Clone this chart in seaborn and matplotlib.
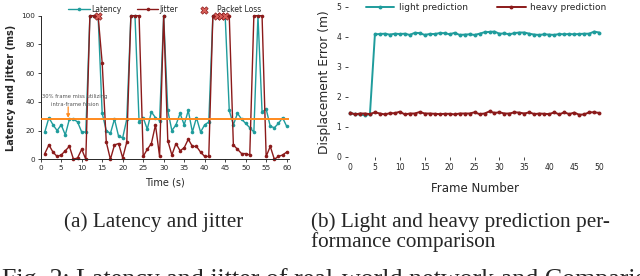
import matplotlib
matplotlib.use("Agg")
import numpy as np
import pandas as pd
import seaborn as sns
from matplotlib import pyplot as plt

# (a) latency / jitter per second
seconds = list(range(1, 61))
latency = [19, 29, 24, 20, 24, 17, 28, 28, 26, 19,
           19, 100, 100, 100, 32, 20, 18, 28, 16, 15,
           28, 100, 100, 26, 29, 21, 33, 29, 27, 100,
           34, 20, 24, 32, 24, 34, 19, 29, 19, 24,
           26, 100, 100, 100, 100, 34, 24, 32, 28, 25,
           22, 19, 100, 33, 35, 23, 22, 25, 29, 23]
jitter = [4, 10, 5, 2, 3, 6, 9, 0, 1, 7,
          0, 100, 100, 100, 67, 12, 0, 10, 11, 1,
          12, 100, 100, 100, 2, 7, 11, 24, 2, 100,
          13, 3, 11, 6, 8, 14, 9, 9, 5, 2,
          2, 100, 100, 100, 100, 100, 10, 7, 4, 4,
          3, 100, 100, 100, 2, 9, 0, 2, 3, 5]
loss_t = [14, 43, 44, 45]
loss_v = [100, 100, 100, 100]
threshold = 28

# (b) displacement error per frame
frames = list(range(0, 51))
light = [1.45, 1.42, 1.41, 1.38, 1.42, 4.08, 4.09, 4.10, 4.07, 4.10,
         4.09, 4.10, 4.06, 4.13, 4.12, 4.06, 4.09, 4.09, 4.12, 4.12,
         4.08, 4.13, 4.06, 4.07, 4.08, 4.06, 4.10, 4.15, 4.16, 4.17,
         4.10, 4.11, 4.08, 4.12, 4.14, 4.14, 4.10, 4.07, 4.06, 4.08,
         4.07, 4.06, 4.09, 4.08, 4.09, 4.08, 4.09, 4.10, 4.10, 4.17, 4.14]
heavy = [1.47, 1.41, 1.44, 1.44, 1.42, 1.48, 1.44, 1.41, 1.45, 1.45,
         1.50, 1.41, 1.44, 1.44, 1.49, 1.44, 1.44, 1.43, 1.42, 1.43,
         1.43, 1.41, 1.44, 1.44, 1.44, 1.48, 1.42, 1.44, 1.51, 1.46,
         1.48, 1.44, 1.44, 1.48, 1.47, 1.44, 1.48, 1.42, 1.44, 1.43,
         1.42, 1.48, 1.41, 1.48, 1.42, 1.47, 1.40, 1.41, 1.48, 1.48, 1.46]

TEAL = '#1f9c9c'
DARKRED = '#8b1a1a'
ORANGE = '#ff8a1e'

sns.set_theme(style='ticks')
plt.rcParams['font.family'] = ['DejaVu Sans']

fig = plt.figure(figsize=(6.4, 2.76), dpi=100)

# ---- left panel
ax1 = fig.add_axes([0.0636, 0.4228, 0.3875, 0.5203])
sns.lineplot(x=seconds, y=latency, ax=ax1, color=TEAL, marker='o', markersize=2.6,
             markeredgewidth=0, linewidth=1.0, label='Latency', clip_on=False)
sns.lineplot(x=seconds, y=jitter, ax=ax1, color=DARKRED, marker='o', markersize=2.6,
             markeredgewidth=0, linewidth=1.0, label='Jitter', clip_on=False)
sns.scatterplot(x=loss_t, y=loss_v, ax=ax1, marker='X', s=28, color='#d9605a',
                edgecolor=DARKRED, linewidth=0.5, label='Packet Loss', zorder=5, clip_on=False)
ax1.axhline(threshold, color=ORANGE, linewidth=1.4, zorder=4)
ax1.text(8.4, 36.5, '30% frame miss utilizing\nintra-frame fusion', ha='center', va='bottom',
         fontsize=3.8, color='#555555', linespacing=1.7)
ax1.annotate('', xy=(6.7, threshold + 0.8), xytext=(6.7, 36.5),
             arrowprops=dict(arrowstyle='-|>', color=ORANGE, lw=0.9, mutation_scale=5,
                             shrinkA=0, shrinkB=0))
ax1.set_xlim(0, 60.5)
ax1.set_ylim(0, 100)
ax1.set_xticks(range(0, 61, 5))
ax1.set_yticks(range(0, 101, 20))
ax1.tick_params(labelsize=5.2, length=2.5, width=0.6, pad=1.5)
ax1.set_xlabel('Time (s)', fontsize=7, labelpad=4.5)
ax1.set_ylabel('Latency and Jitter (ms)', fontsize=7, fontweight='bold', labelpad=4)
for s in ('left', 'bottom'):
    ax1.spines[s].set_linewidth(0.7)
sns.despine(ax=ax1)
ax1.legend(loc='lower center', bbox_to_anchor=(0.5, 0.99), ncol=3, frameon=False,
           fontsize=5.5, handlelength=2.8, columnspacing=2.0, borderaxespad=0,
           handletextpad=0.2)

# ---- right panel
ax2 = fig.add_axes([0.543, 0.4322, 0.397, 0.5435])
sns.lineplot(x=frames, y=light, ax=ax2, color=TEAL, marker='o', markersize=2.8,
             markeredgewidth=0, linewidth=1.4, label='light prediction')
sns.lineplot(x=frames, y=heavy, ax=ax2, color=DARKRED, marker='o', markersize=2.8,
             markeredgewidth=0, linewidth=1.4, label='heavy prediction')
ax2.set_xlim(-0.5, 50.5)
ax2.set_ylim(0, 5)
ax2.set_xticks(range(0, 51, 5))
ax2.set_yticks(range(0, 6))
ax2.tick_params(labelsize=5.5, length=2.5, width=0.6, pad=2)
for tk, loc in zip(ax2.xaxis.get_major_ticks(), ax2.get_xticks()):
    if loc in (0, 40, 45, 50):
        tk.tick1line.set_visible(False)
ax2.set_xlabel('Frame Number', fontsize=8.5, labelpad=7)
ax2.set_ylabel('Displacement Error (m)', fontsize=8.8, labelpad=4)
sns.despine(ax=ax2, left=True, bottom=True)
ax2.legend(loc='lower center', bbox_to_anchor=(0.545, 0.94), ncol=2, frameon=False,
           fontsize=6.5, handlelength=3.2, columnspacing=3.2, borderaxespad=0,
           handletextpad=0.5)

# ---- captions
serif = ['Liberation Serif', 'DejaVu Serif']
fig.text(154 / 640, 1 - 227 / 276, '(a) Latency and jitter', ha='center', va='baseline',
         fontsize=15.3, family=serif)
fig.text(311 / 640, 1 - 227 / 276, '(b) Light and heavy prediction per-', ha='left',
         va='baseline', fontsize=15.3, family=serif)
fig.text(311 / 640, 1 - 247 / 276, 'formance comparison', ha='left', va='baseline',
         fontsize=15.3, family=serif)
fig.text(2 / 640, 1 - 286 / 276, 'Fig. 2: Latency and jitter of real-world network and Comparison',
         ha='left', va='baseline', fontsize=18.7, family=serif)

fig.savefig('out.png', dpi=100)
